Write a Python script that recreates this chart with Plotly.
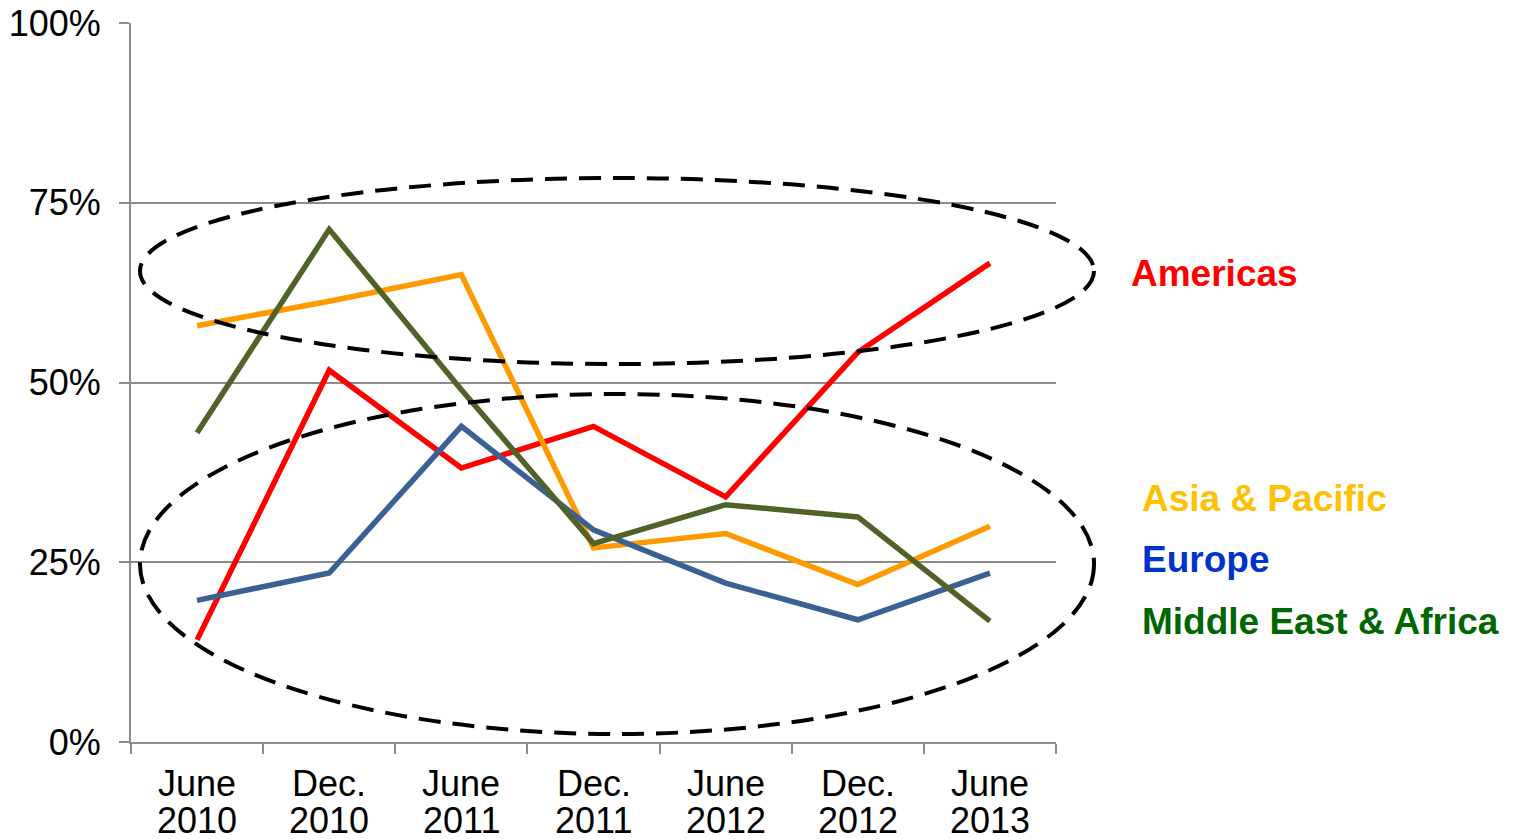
import plotly.graph_objects as go

# Half-year periods on the category axis (two-line labels)
periods = ["June 2010", "Dec. 2010", "June 2011", "Dec. 2011", "June 2012", "Dec. 2012", "June 2013"]
label_top = ["June", "Dec.", "June", "Dec.", "June", "Dec.", "June"]
label_bottom = ["2010", "2010", "2011", "2011", "2012", "2012", "2013"]

# Share by region (%)
americas = [14.2, 51.7, 38.1, 43.9, 34.1, 54.2, 66.6]
asia_pacific = [57.9, 61.3, 65.0, 27.0, 29.0, 21.9, 30.0]
europe = [19.7, 23.5, 43.9, 29.5, 22.1, 17.0, 23.5]
middle_east_africa = [43.0, 71.3, 49.0, 27.6, 33.0, 31.3, 16.8]

y_ticks = [0, 25, 50, 75, 100]

series = [
    # name, values, line colour, label colour, label x (paper), label y (data)
    ("Americas", americas, "#FF0000", "#FF0000", 1.0790, 65.1),
    ("Asia & Pacific", asia_pacific, "#FF9900", "#FFC000", 1.0908, 33.9),
    ("Europe", europe, "#3A6193", "#0033CC", 1.0908, 25.4),
    ("Middle East & Africa", middle_east_africa, "#4F6228", "#006600", 1.0908, 16.7),
]

FONT = "Liberation Sans, Arial, sans-serif"
GRID = "#8C8C8C"

fig = go.Figure()
for name, vals, line_color, _, _, _ in series:
    fig.add_trace(go.Scatter(
        x=periods, y=vals, mode="lines", name=name,
        line=dict(color=line_color, width=5.5),
    ))

# Region labels at the right of the plot
for name, _, _, text_color, x_pos, y_pos in series:
    fig.add_annotation(
        text=f"<b>{name}</b>", x=x_pos, xref="paper", y=y_pos, yref="y",
        xanchor="left", yanchor="middle", showarrow=False,
        font=dict(family=FONT, size=37, color=text_color),
    )

# Two-line category labels below the x axis
for i in range(len(periods)):
    for txt, yp in ((label_top[i], -0.0584), (label_bottom[i], -0.1085)):
        fig.add_annotation(
            text=txt, x=i, xref="x", y=yp, yref="paper",
            xanchor="center", yanchor="middle", showarrow=False,
            font=dict(family=FONT, size=36, color="black"),
        )

# Dashed ellipses grouping the high and low clusters (paper coordinates so
# they can extend past the right edge of the plot area)
dash_line = dict(color="black", width=4, dash="22px,12px")
fig.add_shape(type="circle", xref="paper", yref="paper",
              x0=0.0097, x1=1.0411, y0=0.5257, y1=0.7844, line=dash_line)
fig.add_shape(type="circle", xref="paper", yref="paper",
              x0=0.0097, x1=1.0411, y0=0.0111, y1=0.4840, line=dash_line)

fig.update_layout(
    width=1513, height=839,
    margin=dict(l=131, r=457, t=23, b=97, autoexpand=False),
    plot_bgcolor="white", paper_bgcolor="white",
    showlegend=False,
    font=dict(family=FONT, size=36, color="black"),
)
fig.update_xaxes(
    type="category", categoryorder="array", categoryarray=periods,
    range=[-0.5, 6.5], tickson="boundaries", automargin=False,
    showticklabels=False, ticks="outside", ticklen=10, tickwidth=2, tickcolor=GRID,
    showline=True, linecolor=GRID, linewidth=2, showgrid=False, zeroline=False,
)
fig.update_yaxes(
    range=[0, 100], tickvals=y_ticks, ticktext=[f"{v}%" for v in y_ticks],
    automargin=False,
    ticks="outside", ticklen=10, tickwidth=2, tickcolor=GRID,
    showline=True, linecolor=GRID, linewidth=2,
    showgrid=True, gridcolor=GRID, gridwidth=2, zeroline=False,
    ticklabelstandoff=11,
    tickfont=dict(family=FONT, size=36, color="black"),
)

fig.write_html("out.html")
